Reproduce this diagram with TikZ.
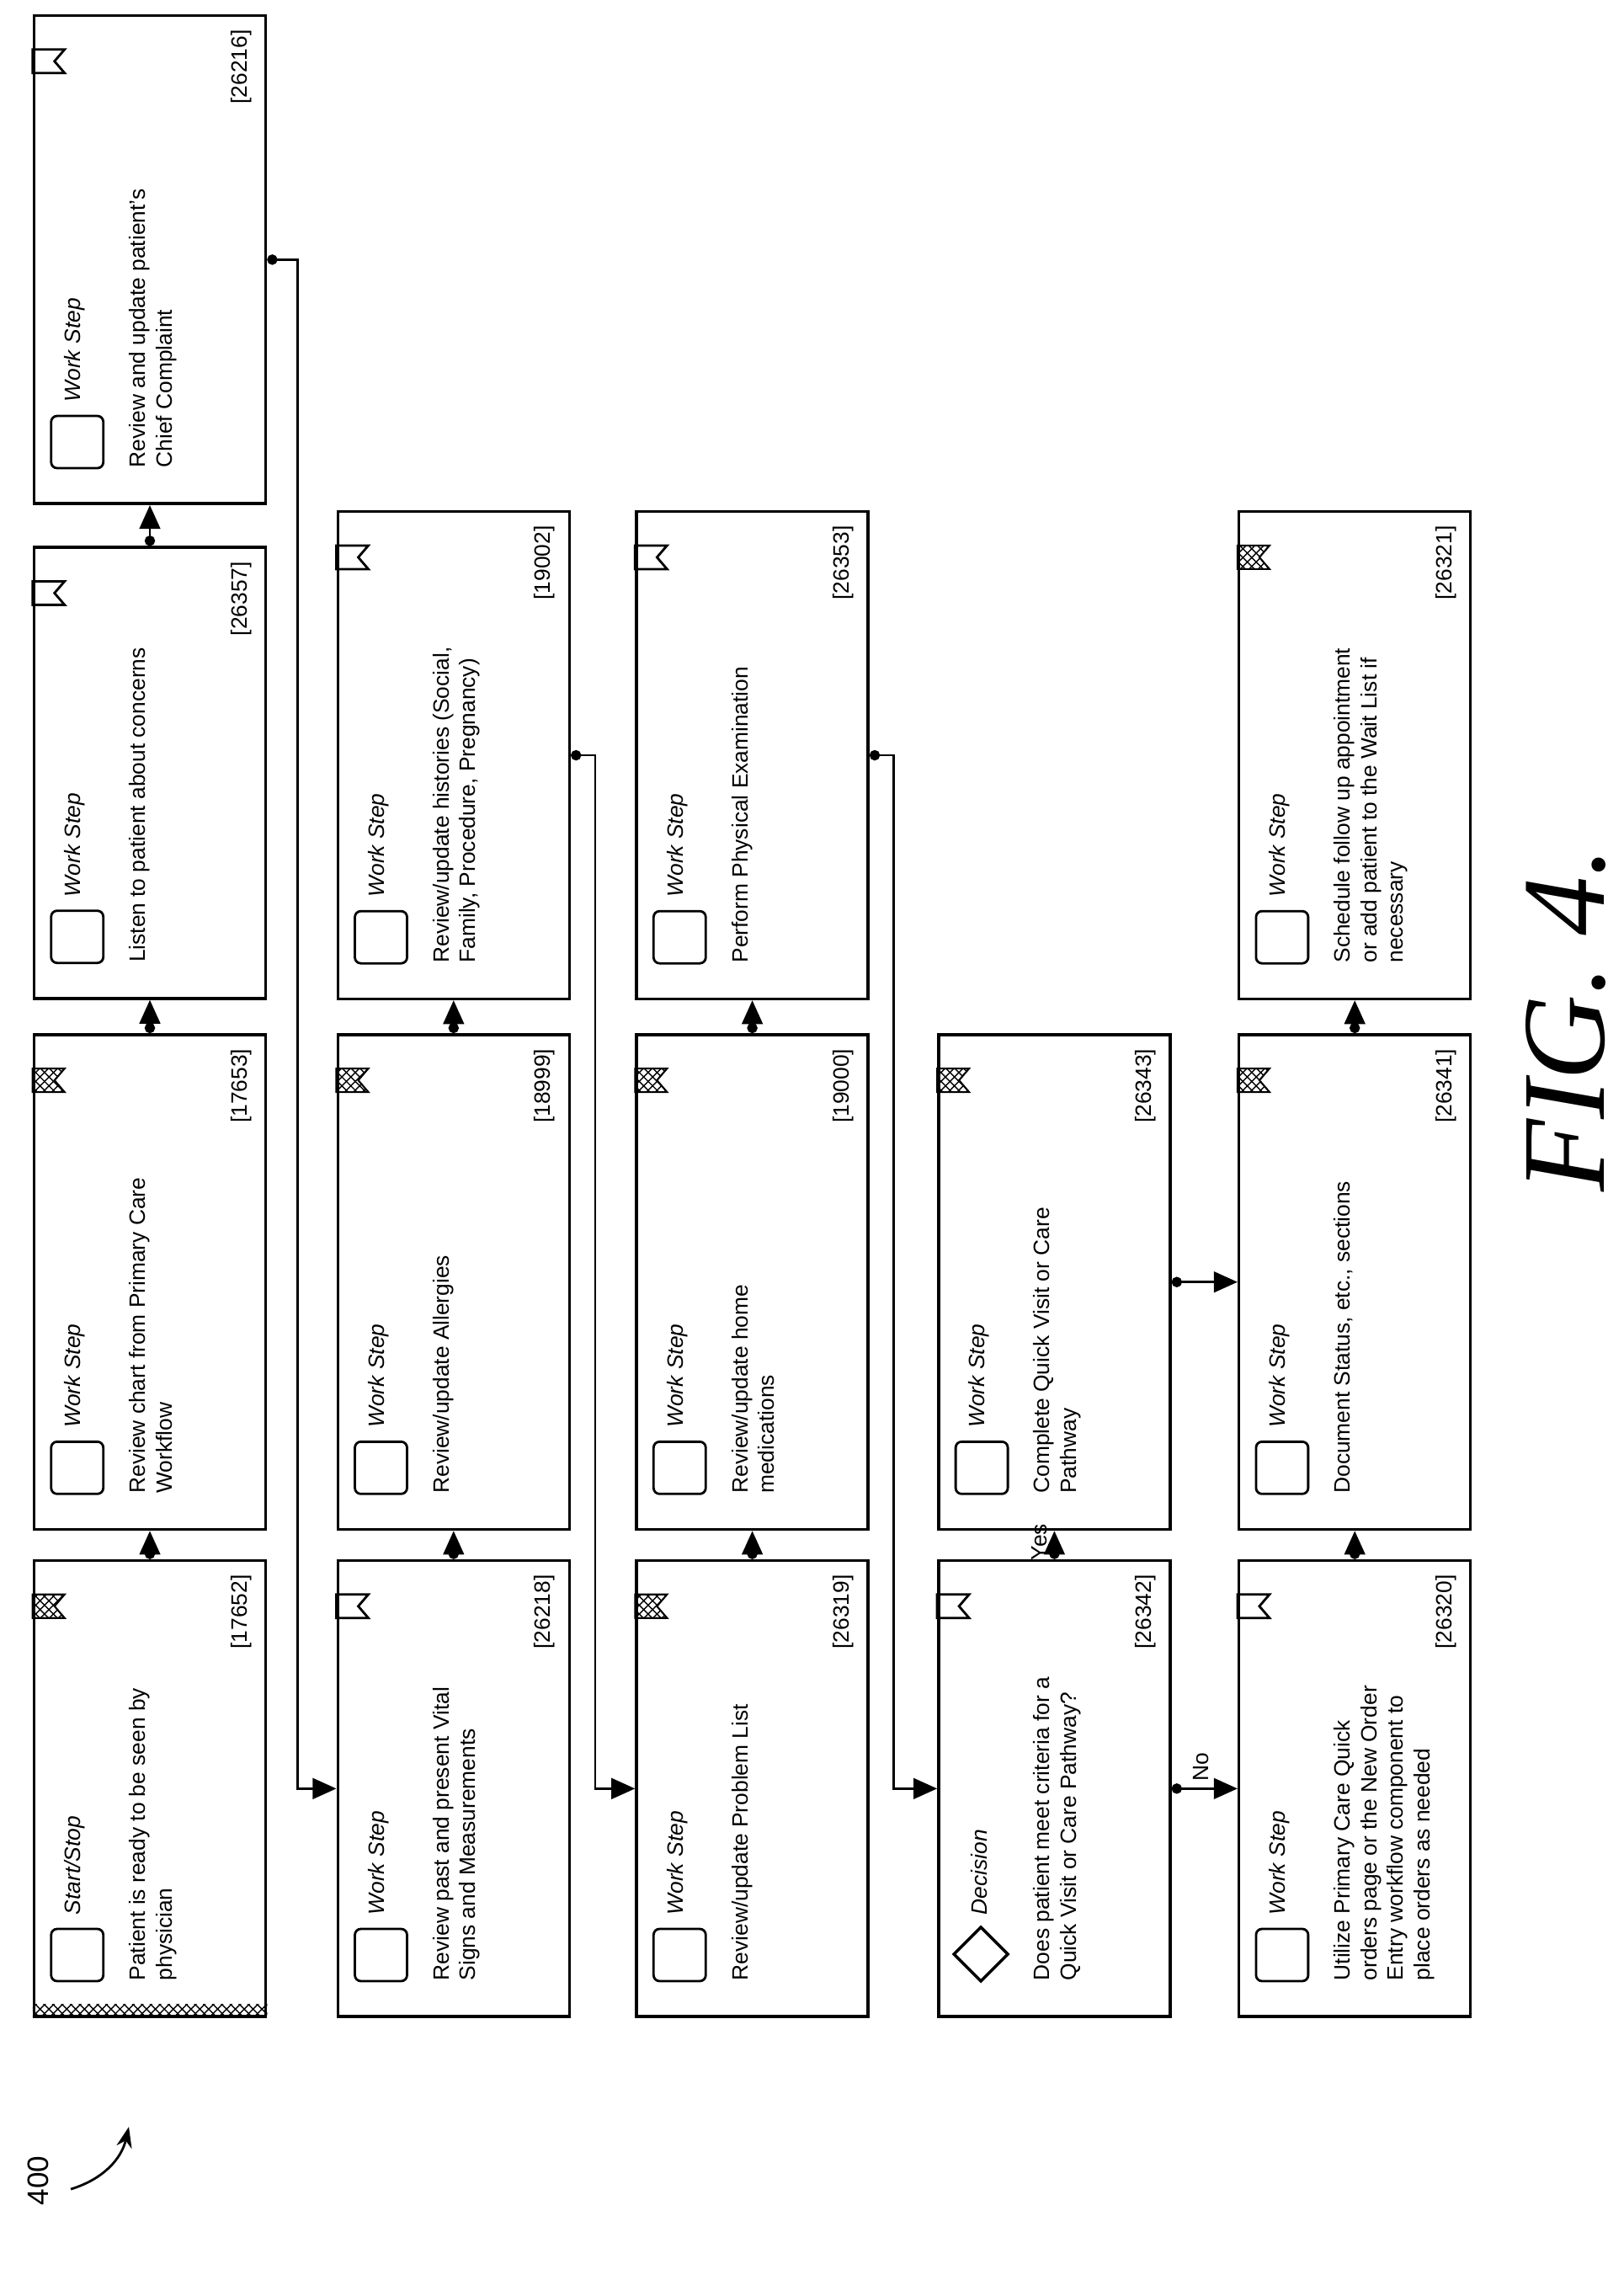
\documentclass[tikz,border=0pt]{standalone}
\usepackage{fontspec}
\setmainfont{Liberation Sans}
\newfontfamily\figfont{Liberation Serif}
\usetikzlibrary{arrows.meta,patterns}

\tikzset{
  stepframe/.style={draw, line width=1pt, inner sep=0pt, minimum height=2.75cm},
  titletext/.style={anchor=west, inner sep=0pt, font=\fontsize{7.5}{9}\selectfont\itshape},
  steptext/.style={anchor=north west, align=left, inner sep=0pt, font=\fontsize{7.5}{9}\selectfont},
  idtext/.style={anchor=south east, inner sep=0pt, font=\fontsize{7.5}{9}\selectfont},
  flagfull/.style={draw, line width=0.6pt, pattern=crosshatch},
  flagopen/.style={draw, line width=0.8pt},
  flow/.style={line width=0.8pt, {Circle[length=3.5pt]}-{Triangle[length=8pt,width=7pt]}},
  flowlabel/.style={font=\fontsize{7.5}{9}\selectfont, inner sep=2pt}
}

% box: name, U, V, length, title, body, id, flag style, icon
\newcommand{\stepbox}[9]{%
  \node[stepframe, minimum width=#4*0.01cm] (#1) at (#2,#3) {};
  \path (#1.north west) ++(122,-50) node[titletext] {#5};
  \path (#1.north west) ++(44,-114) node[steptext] {#6};
  \path (#1.south east) ++(-18,18) node[idtext] {[#7]};
  \draw[#8] (#1.north east) ++(-70,0) -- ++(28,0) -- ++(0,-38) -- ++(-14,12) -- ++(-14,-12) -- cycle;
  \csname icon#9\endcsname{#1}}
\newcommand{\iconsq}[1]{\draw[rounded corners=2pt, line width=0.8pt] (#1.north west) ++(44,-22) rectangle ++(62,-62);}
\newcommand{\icondia}[1]{\draw[line width=1pt] (#1.north west) ++(76,-20) -- ++(32,-32) -- ++(-32,-32) -- ++(-32,32) -- cycle;}

\begin{document}
\begin{tikzpicture}[x=0.01cm, y=0.01cm]
\useasboundingbox (0cm,0cm) rectangle (19.29cm,-27.08cm);

\begin{scope}[shift={(19.29cm,-27.08cm)}, rotate=90, transform shape]

% row 1
\stepbox{start}{584}{1752}{542}{Start/Stop}{Patient is ready to be seen by\\physician}{17652}{flagfull}{sq}
\fill[pattern=crosshatch] (start.south west) rectangle ([xshift=16*0.01cm]start.north west);
\stepbox{chart}{1186}{1752}{588}{Work Step}{Review chart from Primary Care\\Workflow}{17653}{flagfull}{sq}
\stepbox{listen}{1791}{1752}{536}{Work Step}{Listen to patient about concerns}{26357}{flagopen}{sq}
\stepbox{chief}{2401}{1752}{580}{Work Step}{Review and update patient's\\Chief Complaint}{26216}{flagopen}{sq}

% row 2
\stepbox{vitals}{584}{1391}{542}{Work Step}{Review past and present Vital\\Signs and Measurements}{26218}{flagopen}{sq}
\stepbox{allergy}{1186}{1391}{588}{Work Step}{Review/update Allergies}{18999}{flagfull}{sq}
\stepbox{history}{1812}{1391}{579}{Work Step}{Review/update histories (Social,\\Family, Procedure, Pregnancy)}{19002}{flagopen}{sq}

% row 3
\stepbox{problem}{584}{1036}{542}{Work Step}{Review/update Problem List}{26319}{flagfull}{sq}
\stepbox{meds}{1186}{1036}{588}{Work Step}{Review/update home\\medications}{19000}{flagfull}{sq}
\stepbox{exam}{1812}{1036}{579}{Work Step}{Perform Physical Examination}{26353}{flagopen}{sq}

% row 4
\stepbox{decide}{584}{677}{542}{Decision}{Does patient meet criteria for a\\Quick Visit or Care Pathway?}{26342}{flagopen}{dia}
\stepbox{quick}{1186}{677}{588}{Work Step}{Complete Quick Visit or Care\\Pathway}{26343}{flagfull}{sq}

% row 5
\stepbox{orders}{584}{320}{542}{Work Step}{Utilize Primary Care Quick\\orders page or the New Order\\Entry workflow component to\\place orders as needed}{26320}{flagopen}{sq}
\stepbox{status}{1186}{320}{588}{Work Step}{Document Status, etc., sections}{26341}{flagfull}{sq}
\stepbox{followup}{1812}{320}{579}{Work Step}{Schedule follow up appointment\\or add patient to the Wait List if\\necessary}{26321}{flagfull}{sq}

% connectors
\draw[flow] (start) -- (chart);
\draw[flow] (chart) -- (listen);
\draw[flow] (listen) -- (chief);
\draw[flow] (chief.south) -- ++(0,-36) -| (vitals.north);
\draw[flow] (vitals) -- (allergy);
\draw[flow] (allergy) -- (history);
\draw[flow] (history.south) -- ++(0,-29) -| (problem.north);
\draw[flow] (problem) -- (meds);
\draw[flow] (meds) -- (exam);
\draw[flow] (exam.south) -- ++(0,-29) -| (decide.north);
\draw[flow] (decide) -- node[flowlabel, above, pos=0.6] {Yes} (quick);
\draw[flow] (decide) -- node[flowlabel, right, pos=0.45] {No} (orders);
\draw[flow] (quick) -- (status);
\draw[flow] (orders) -- (status);
\draw[flow] (status) -- (followup);

% labels
\node[font=\fontsize{10}{12}\selectfont] (fignum) at (118,1885) {400};
\coordinate (fignumtip) at (182,1777);
\draw[line width=0.8pt, -{Stealth[length=7pt]}] (108,1846) to[bend right=30] (fignumtip);
\node[font=\figfont\fontsize{40}{40}\selectfont\itshape] (figlabel) at (1498,69) {FIG. 4.};

\end{scope}
\end{tikzpicture}
\end{document}
